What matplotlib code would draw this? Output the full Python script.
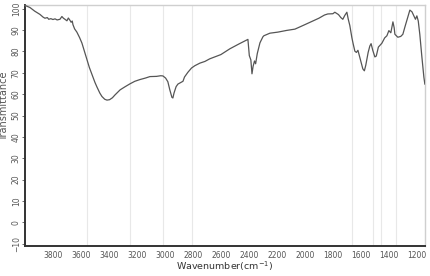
import numpy as np
import matplotlib
matplotlib.use("Agg")
import matplotlib.pyplot as plt

# FTIR spectrum
wavenumber = [4000, 3964, 3930, 3893, 3870, 3857, 3840, 3830, 3815, 3800,
              3785, 3770, 3750, 3736, 3725, 3714, 3700, 3690, 3679, 3670,
              3662, 3657, 3645, 3629, 3610, 3593, 3575, 3557, 3540, 3521,
              3500, 3486, 3465, 3450, 3430, 3414, 3395, 3375, 3357, 3320,
              3286, 3250, 3215, 3179, 3140, 3107, 3060, 3030, 3014, 2995,
              2979, 2965, 2950, 2943, 2935, 2920, 2907, 2885, 2871, 2860,
              2836, 2810, 2786, 2750, 2714, 2680, 2643, 2600, 2536, 2470,
              2407, 2397, 2386, 2378, 2370, 2360, 2352, 2340, 2321, 2300,
              2293, 2250, 2193, 2130, 2071, 2040, 2000, 1950, 1900, 1860,
              1836, 1800, 1786, 1760, 1743, 1729, 1715, 1700, 1690, 1679,
              1670, 1664, 1655, 1643, 1632, 1621, 1605, 1586, 1575, 1565,
              1548, 1536, 1527, 1515, 1500, 1490, 1475, 1450, 1430, 1414,
              1400, 1386, 1378, 1371, 1362, 1357, 1336, 1315, 1300, 1285,
              1264, 1250, 1235, 1221, 1210, 1200, 1190, 1179, 1165, 1150,
              1143]
transmittance = [101.5, 100.5, 98.8, 97.3, 96.0, 95.5, 95.8, 95.0, 95.3, 94.9,
                 95.2, 94.7, 95.0, 96.3, 95.5, 95.0, 94.3, 95.6, 94.6, 93.6,
                 94.2, 92.5, 90.5, 89.0, 86.5, 83.9, 80.0, 76.0, 72.5, 69.2,
                 65.5, 63.4, 60.5, 58.9, 57.6, 57.2, 57.4, 58.3, 59.6, 62.0,
                 63.4, 64.8, 66.0, 66.8, 67.5, 68.2, 68.3, 68.6, 68.5, 67.5,
                 65.8, 62.0, 58.5, 58.2, 60.5, 63.5, 64.7, 65.5, 66.0, 68.0,
                 70.2, 72.2, 73.3, 74.5, 75.3, 76.5, 77.4, 78.5, 81.2, 83.5,
                 85.6, 78.0, 76.0, 69.5, 73.0, 75.5, 74.2, 79.0, 84.0, 86.8,
                 87.3, 88.5, 89.0, 89.8, 90.4, 91.3, 92.5, 94.0, 95.5, 97.0,
                 97.5, 97.6, 98.3, 97.2, 95.8, 95.0, 96.8, 98.3, 95.0, 92.1,
                 88.5, 86.3, 83.5, 80.1, 79.5, 80.5, 76.5, 71.8, 70.9, 73.5,
                 79.5, 82.5, 83.6, 80.5, 77.4, 77.8, 82.0, 83.8, 86.3, 87.3,
                 89.7, 88.7, 91.5, 93.8, 91.0, 88.0, 86.6, 87.0, 88.0, 91.5,
                 96.2, 99.3, 98.5, 96.6, 95.0, 96.6, 94.2, 88.0, 78.0, 68.0,
                 64.7]

# faint vertical marker lines
markers = [3557, 3250, 3014, 2807, 1664, 1514, 1457, 1350]

x_ticks = list(range(3800, 1100, -200))
y_ticks = list(range(-10, 101, 10))

fig = plt.figure(figsize=(4.3, 2.76), dpi=100)
ax = fig.add_axes([0.058, 0.109, 0.93, 0.873])

for m in markers:
    ax.axvline(m, color="#e8e8e8", lw=0.8, zorder=1)

ax.plot(wavenumber, transmittance, color="#555555", lw=0.9, zorder=3)

ax.set_xlim(4000, 1143)
ax.set_ylim(-11, 101.7)
ax.set_xticks(x_ticks)
ax.set_yticks(y_ticks)

ax.tick_params(axis="x", length=0, labelsize=5.5, labelcolor="#555555", pad=4)
ax.tick_params(axis="y", length=2, width=0.6, color="#555555",
               labelsize=5.5, labelcolor="#555555", pad=1)
for lbl in ax.get_yticklabels():
    lbl.set_rotation(90)
    lbl.set_va("center")

for side in ("left", "bottom"):
    ax.spines[side].set_color("#333333")
    ax.spines[side].set_linewidth(1.4)
for side in ("top", "right"):
    ax.spines[side].set_color("#cfcfcf")
    ax.spines[side].set_linewidth(1.0)

ax.set_xlabel("Wavenumber(cm$^{-1}$)", fontsize=6.8, color="#333333")
ax.xaxis.set_label_coords(0.5, -0.058)
ax.xaxis.label.set_va("top")
ax.set_ylabel("Transmittance", fontsize=7, color="#555555")
ax.yaxis.set_label_coords(-0.04, 0.58)

fig.savefig("out.png", dpi=100)
